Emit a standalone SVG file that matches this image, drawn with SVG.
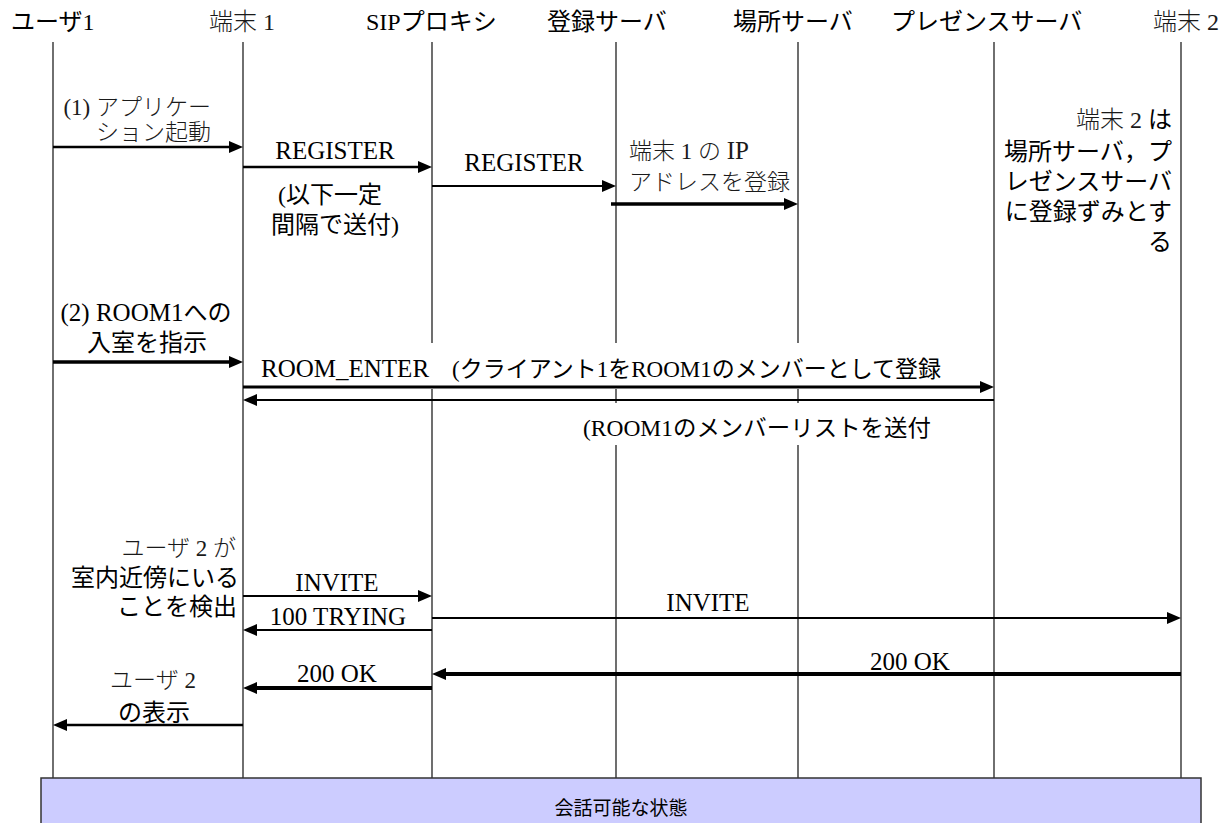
<svg xmlns="http://www.w3.org/2000/svg" width="1225" height="823" viewBox="0 0 1225 823">
<style>
text{font-family:"Liberation Serif","Noto Sans CJK JP",serif;fill:#000;font-size:24px}
.h{font-size:24px}
.m{fill:#1a1a1a;font-weight:300;font-size:23px}
.l{font-size:25px;font-weight:400}
.ll{stroke:#222;stroke-width:1.3;fill:none}
.a{stroke:#000;fill:none}
.e{text-anchor:end}
.c{text-anchor:middle}
</style>
<defs>
<marker id="ah" viewBox="0 0 14 12" refX="4" refY="6" markerWidth="14" markerHeight="12" markerUnits="userSpaceOnUse" orient="auto">
<path d="M0,0 L14,6 L0,12 z" fill="#000"/>
</marker>
</defs>
<rect x="0" y="0" width="1225" height="823" fill="#fff"/>
<g id="lifelines">
<g id="user1"><text class="h" x="11" y="30">ユーザ1</text><line class="ll" x1="53" y1="42" x2="53" y2="778"/></g>
<g id="term1"><text class="h m" style="font-size:24px" x="209" y="30">端末 1</text><line class="ll" x1="243" y1="42" x2="243" y2="778"/></g>
<g id="sip"><text class="h" x="366" y="30">SIPプロキシ</text><path class="ll" d="M432,42V343M432,389V778"/></g>
<g id="reg"><text class="h" x="547" y="30">登録サーバ</text><path class="ll" d="M616,42V343M616,389V403M616,445V778"/></g>
<g id="loc"><text class="h" x="733" y="30">場所サーバ</text><path class="ll" d="M798,42V343M798,389V403M798,445V778"/></g>
<g id="pres"><text class="h" x="891" y="30">プレゼンスサーバ</text><line class="ll" x1="994" y1="42" x2="994" y2="778"/></g>
<g id="term2"><text class="h m" style="font-size:24px" x="1153" y="30">端末 2</text><line class="ll" x1="1181" y1="42" x2="1181" y2="778"/></g>
</g>
<g id="connectors">
<line class="a" x1="53" y1="147" x2="233" y2="147" stroke-width="2.5" marker-end="url(#ah)"/>
<line class="a" x1="243" y1="167" x2="422" y2="167" stroke-width="2.5" marker-end="url(#ah)"/>
<line class="a" x1="432" y1="186" x2="606" y2="186" stroke-width="2" marker-end="url(#ah)"/>
<line class="a" x1="611" y1="204" x2="788" y2="204" stroke-width="3.5" marker-end="url(#ah)"/>
<line class="a" x1="53" y1="362" x2="233" y2="362" stroke-width="3.5" marker-end="url(#ah)"/>
<line class="a" x1="243" y1="387" x2="984" y2="387" stroke-width="3" marker-end="url(#ah)"/>
<line class="a" x1="994" y1="400" x2="253" y2="400" stroke-width="2" marker-end="url(#ah)"/>
<line class="a" x1="243" y1="596" x2="422" y2="596" stroke-width="2" marker-end="url(#ah)"/>
<line class="a" x1="432" y1="618" x2="1171" y2="618" stroke-width="2" marker-end="url(#ah)"/>
<line class="a" x1="432" y1="630" x2="253" y2="630" stroke-width="2" marker-end="url(#ah)"/>
<line class="a" x1="1181" y1="674" x2="442" y2="674" stroke-width="4" marker-end="url(#ah)"/>
<line class="a" x1="432" y1="688" x2="253" y2="688" stroke-width="4" marker-end="url(#ah)"/>
<line class="a" x1="243" y1="725" x2="63" y2="725" stroke-width="2.5" marker-end="url(#ah)"/>
</g>
<g id="labels">
<text class="m e" x="211" y="115">(1) アプリケー</text>
<text class="m e" x="211" y="140">ション起動</text>
<text class="l c" x="335" y="159">REGISTER</text>
<text class="c" x="330" y="203">(以下一定</text>
<text class="c" x="335" y="233">間隔で送付)</text>
<text class="l c" x="524" y="171">REGISTER</text>
<text class="m" x="629" y="159">端末 1 の <tspan class="l">IP</tspan></text>
<text class="m" x="629" y="190">アドレスを登録</text>
<text class="e" x="1172" y="128"><tspan class="m" style="font-size:24px">端末 2 </tspan>は</text>
<text class="e" x="1172" y="160">場所サーバ，プ</text>
<text class="e" x="1172" y="190">レゼンスサーバ</text>
<text class="e" x="1172" y="220">に登録ずみとす</text>
<text class="e" x="1172" y="250">る</text>
<text class="c" x="146" y="321"><tspan class="l">(2) ROOM1</tspan>への</text>
<text class="c" x="147" y="351">入室を指示</text>
<text class="l" x="261" y="377">ROOM_ENTER</text>
<text x="452" y="377" style="font-size:23px" textLength="489" lengthAdjust="spacingAndGlyphs">(クライアント1を<tspan class="l" style="font-size:23px">ROOM1</tspan>のメンバーとして登録</text>
<text x="583" y="436" style="font-size:23px" textLength="348" lengthAdjust="spacingAndGlyphs">(ROOM1のメンバーリストを送付</text>
<text class="m e" x="236" y="556">ユーザ 2 が</text>
<text class="e" x="239" y="586">室内近傍にいる</text>
<text class="e" x="237" y="615">ことを検出</text>
<text class="l c" x="337" y="591">INVITE</text>
<text class="l c" x="338" y="625">100 TRYING</text>
<text class="l c" x="708" y="611">INVITE</text>
<text class="l c" x="910" y="670">200 OK</text>
<text class="l c" x="337" y="682">200 OK</text>
<text class="m c" x="153" y="688">ユーザ 2</text>
<text class="c" x="154" y="721">の表示</text>
</g>
<g id="state">
<rect x="41" y="778" width="1160" height="50" fill="#ccccff" stroke="#333" stroke-width="1.5"/>
<text class="c" x="621" y="815" style="font-size:19px">会話可能な状態</text>
</g>
</svg>
